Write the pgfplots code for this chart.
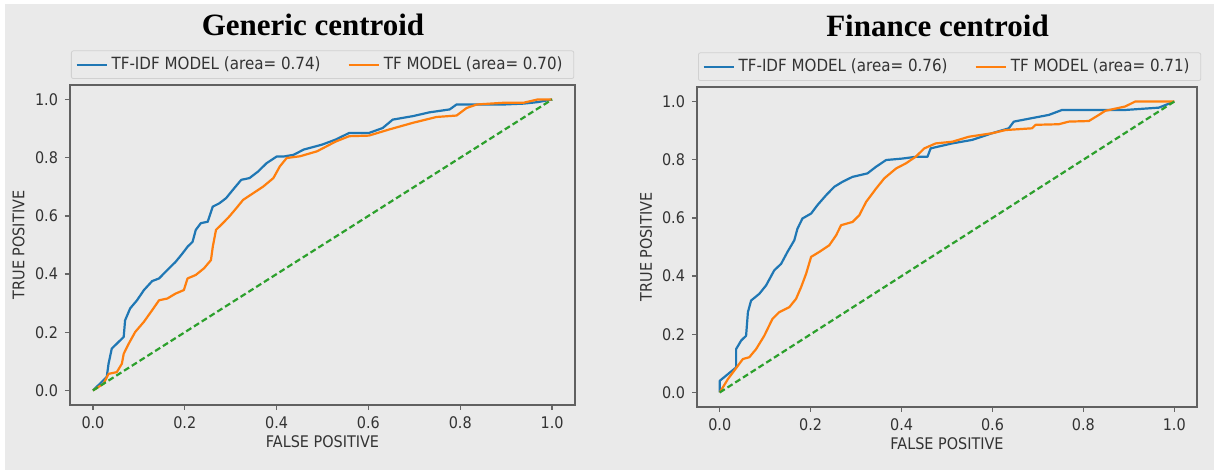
\documentclass[border=0pt]{standalone}
\usepackage{pgfplots}
\pgfplotsset{compat=1.18}
\usepackage{fontspec}
\setmainfont{Liberation Serif}
\newfontfamily\lab{DejaVu Sans}[FakeStretch=0.9]
\definecolor{bg}{HTML}{EAEAEA}
\definecolor{mblue}{HTML}{1F77B4}
\definecolor{morange}{HTML}{FF7F0E}
\definecolor{mgreen}{HTML}{2CA02C}
\definecolor{txt}{HTML}{333333}
\pgfplotsset{
  rocstyle/.style={
    scale only axis, anchor=south west,
    xmin=-0.05, xmax=1.05, ymin=-0.05, ymax=1.05,
    xtick={0,0.2,0.4,0.6,0.8,1}, xticklabels={0.0,0.2,0.4,0.6,0.8,1.0},
    ytick={0,0.2,0.4,0.6,0.8,1}, yticklabels={0.0,0.2,0.4,0.6,0.8,1.0},
    tick align=outside, tick pos=left, major tick length=2.5pt,
    tick style={draw=black!60, line width=0.6pt},
    axis line style={draw=black!62, line width=0.9pt},
    ticklabel style={font=\lab\fontsize{8}{9}\selectfont, text=txt},
    label style={font=\lab\fontsize{8}{9}\selectfont, text=txt},
    xlabel={FALSE POSITIVE}, ylabel={TRUE POSITIVE},
    xlabel style={at={(axis description cs:0.5,-0.114)}, anchor=center},
    ylabel style={at={(axis description cs:-0.102,0.5)}, anchor=center},
    legend columns=2,
    legend image code/.code={\draw[##1] (0pt,0pt) -- (15pt,0pt);},
    legend style={at={(0,1)}, anchor=south west, yshift=3pt, xshift=0.5pt,
      draw=black!18, fill=bg, rounded corners=1pt,
      inner xsep=2pt, inner ysep=1pt,
      font=\lab\fontsize{8.4}{10}\selectfont, text=txt,
      /tikz/every even column/.append style={column sep=8pt}},
    every axis plot/.append style={line width=1.1pt, line join=round},
  }
}
\begin{document}
\begin{tikzpicture}
\useasboundingbox (0,0) rectangle (607pt,235pt);
\fill[white] (0,0) rectangle (607pt,235pt);
\fill[bg] (2.5pt,0) rectangle (607pt,233pt);
\node[font=\fontsize{15.5}{18}\selectfont\bfseries, anchor=base] at (156.5pt,217pt) {Generic centroid};
\node[font=\fontsize{15.5}{18}\selectfont\bfseries, anchor=base] at (468.75pt,216.5pt) {Finance centroid};

\begin{axis}[rocstyle, at={(35pt,32.5pt)}, width=252.5pt, height=160pt]
\addplot[mblue] coordinates {
(0,0) (0.030,0.046) (0.034,0.092) (0.041,0.144) (0.056,0.167) (0.067,0.184) (0.070,0.241) (0.081,0.282) (0.096,0.310) (0.111,0.345) (0.129,0.376) (0.144,0.385) (0.162,0.414) (0.180,0.442) (0.195,0.471) (0.206,0.494) (0.217,0.511) (0.224,0.552) (0.235,0.575) (0.250,0.580) (0.261,0.632) (0.275,0.643) (0.290,0.661) (0.305,0.690) (0.323,0.724) (0.341,0.730) (0.360,0.753) (0.378,0.781) (0.400,0.804) (0.415,0.804) (0.437,0.810) (0.459,0.828) (0.499,0.845) (0.528,0.862) (0.558,0.885) (0.601,0.885) (0.631,0.902) (0.653,0.931) (0.697,0.943) (0.733,0.956) (0.777,0.966) (0.792,0.983) (0.836,0.983) (0.895,0.983) (0.938,0.986) (0.968,0.991) (1,1)};
\addlegendentry{\makebox[108pt][l]{TF-IDF MODEL (area= 0.74)}}
\addplot[morange] coordinates {
(0,0) (0.023,0.023) (0.034,0.057) (0.052,0.063) (0.063,0.092) (0.067,0.126) (0.078,0.161) (0.092,0.201) (0.111,0.236) (0.129,0.276) (0.144,0.310) (0.162,0.316) (0.180,0.333) (0.198,0.345) (0.206,0.385) (0.224,0.397) (0.242,0.420) (0.257,0.448) (0.261,0.494) (0.268,0.552) (0.283,0.575) (0.297,0.598) (0.312,0.626) (0.327,0.655) (0.349,0.678) (0.371,0.701) (0.393,0.730) (0.407,0.770) (0.422,0.799) (0.451,0.805) (0.488,0.822) (0.528,0.855) (0.558,0.874) (0.601,0.876) (0.645,0.897) (0.697,0.920) (0.748,0.940) (0.792,0.945) (0.814,0.971) (0.836,0.983) (0.895,0.989) (0.938,0.989) (0.968,1.0) (1,1)};
\addlegendentry{\makebox[91pt][l]{TF MODEL (area= 0.70)}}
\addplot[mgreen, dash pattern=on 3pt off 1.6pt, forget plot] coordinates {(0,0) (1,1)};
\end{axis}

\begin{axis}[rocstyle, at={(348.5pt,31.5pt)}, width=250pt, height=160pt]
\addplot[mblue] coordinates {
(0,0) (0.0,0.040) (0.018,0.063) (0.036,0.086) (0.036,0.149) (0.047,0.178) (0.058,0.195) (0.062,0.276) (0.069,0.316) (0.087,0.339) (0.102,0.368) (0.120,0.420) (0.135,0.442) (0.149,0.483) (0.164,0.523) (0.171,0.563) (0.182,0.598) (0.201,0.615) (0.215,0.644) (0.234,0.678) (0.252,0.707) (0.270,0.724) (0.292,0.741) (0.325,0.753) (0.344,0.776) (0.366,0.799) (0.402,0.804) (0.431,0.810) (0.457,0.810) (0.464,0.839) (0.511,0.856) (0.555,0.868) (0.599,0.891) (0.636,0.908) (0.647,0.931) (0.687,0.943) (0.724,0.954) (0.753,0.971) (0.819,0.971) (0.892,0.971) (0.966,0.979) (1,1)};
\addlegendentry{\makebox[108pt][l]{TF-IDF MODEL (area= 0.76)}}
\addplot[morange] coordinates {
(0,0) (0.018,0.046) (0.040,0.092) (0.051,0.115) (0.065,0.121) (0.080,0.149) (0.098,0.195) (0.116,0.253) (0.131,0.276) (0.153,0.293) (0.168,0.322) (0.179,0.362) (0.190,0.408) (0.201,0.466) (0.219,0.483) (0.241,0.506) (0.256,0.540) (0.267,0.575) (0.292,0.586) (0.307,0.609) (0.322,0.655) (0.344,0.701) (0.362,0.736) (0.388,0.770) (0.409,0.787) (0.431,0.810) (0.450,0.839) (0.475,0.856) (0.512,0.862) (0.548,0.879) (0.599,0.891) (0.629,0.902) (0.687,0.908) (0.695,0.920) (0.746,0.922) (0.768,0.931) (0.812,0.933) (0.834,0.954) (0.848,0.968) (0.892,0.983) (0.914,1.0) (1,1)};
\addlegendentry{\makebox[91pt][l]{TF MODEL (area= 0.71)}}
\addplot[mgreen, dash pattern=on 3pt off 1.6pt, forget plot] coordinates {(0,0) (1,1)};
\end{axis}
\end{tikzpicture}
\end{document}
